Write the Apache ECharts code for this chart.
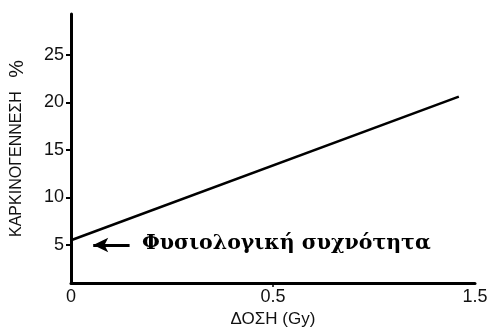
<!DOCTYPE html>
<html>
<head>
<meta charset="utf-8">
<script src="https://cdn.jsdelivr.net/npm/echarts@6/dist/echarts.min.js"></script>
<style>
  html, body { margin: 0; padding: 0; background: #fff; }
  #chart { width: 488px; height: 329px; }
</style>
</head>
<body>
<div id="chart"></div>
<script>
// x positions on the drawn axis (tick slots 0,1,2 carry labels 0, 0.5, 1.5)
const xTickLabels = ['0', '0.5', '1.5'];
const xTickPos = [0, 1, 2];
const yTicks = [5, 10, 15, 20, 25];

// the straight line: start and end points
const linePos = [0, 1.92];
const lineValues = [5.5, 20.6];

// arrow pointing to the baseline frequency
const arrowFrom = [0.29, 5];
const arrowTo = [0.11, 5];
const noteText = 'Φυσιολογική συχνότητα';

const chart = echarts.init(document.getElementById('chart'));

const axisFont = { color: '#111', fontFamily: 'Liberation Sans', fontSize: 18 };

const option = {
  animation: false,
  grid: { left: 71, right: 13, top: 14, bottom: 46, outerBoundsMode: 'none' },
  xAxis: {
    type: 'value',
    min: 0,
    max: 2,
    name: 'ΔΟΣΗ (Gy)',
    nameLocation: 'middle',
    nameGap: 23,
    nameTextStyle: { ...axisFont, fontSize: 17 },
    axisLine: { lineStyle: { color: '#000', width: 3 } },
    axisTick: { show: true, length: 4, lineStyle: { color: '#000', width: 1.5 }, customValues: [1] },
    axisLabel: {
      ...axisFont,
      margin: 5,
      customValues: xTickPos,
      formatter: v => xTickLabels[xTickPos.indexOf(v)]
    },
    splitLine: { show: false }
  },
  yAxis: {
    type: 'value',
    min: 1,
    max: 29.3,
    name: '{a|ΚΑΡΚΙΝΟΓΕΝΝΕΣΗ}   {b|%}',
    nameLocation: 'middle',
    nameGap: 44,
    nameTextStyle: {
      ...axisFont,
      fontSize: 16,
      rich: {
        a: { fontFamily: 'Liberation Sans', fontSize: 16, color: '#111' },
        b: { fontFamily: 'Liberation Sans', fontSize: 20, color: '#111' }
      }
    },
    axisLine: { lineStyle: { color: '#000', width: 3 } },
    axisTick: { show: true, length: 5, lineStyle: { color: '#000', width: 2 }, customValues: yTicks },
    axisLabel: { ...axisFont, margin: 7, customValues: yTicks },
    splitLine: { show: false }
  },
  series: [{
    type: 'line',
    data: linePos.map((x, i) => [x, lineValues[i]]),
    symbol: 'none',
    lineStyle: { color: '#000', width: 2.5 },
    markLine: {
      silent: true,
      symbol: ['none', 'arrow'],
      symbolSize: [11, 15],
      lineStyle: { color: '#000', width: 3, type: 'solid' },
      label: { show: false },
      data: [[{ coord: arrowFrom }, { coord: arrowTo }]]
    }
  }],
  graphic: [{
    type: 'text',
    left: 142,
    top: 233,
    style: {
      text: noteText,
      fill: '#000',
      font: 'bold 20.5px "DejaVu Serif"'
    }
  }]
};

chart.setOption(option);
</script>
</body>
</html>
